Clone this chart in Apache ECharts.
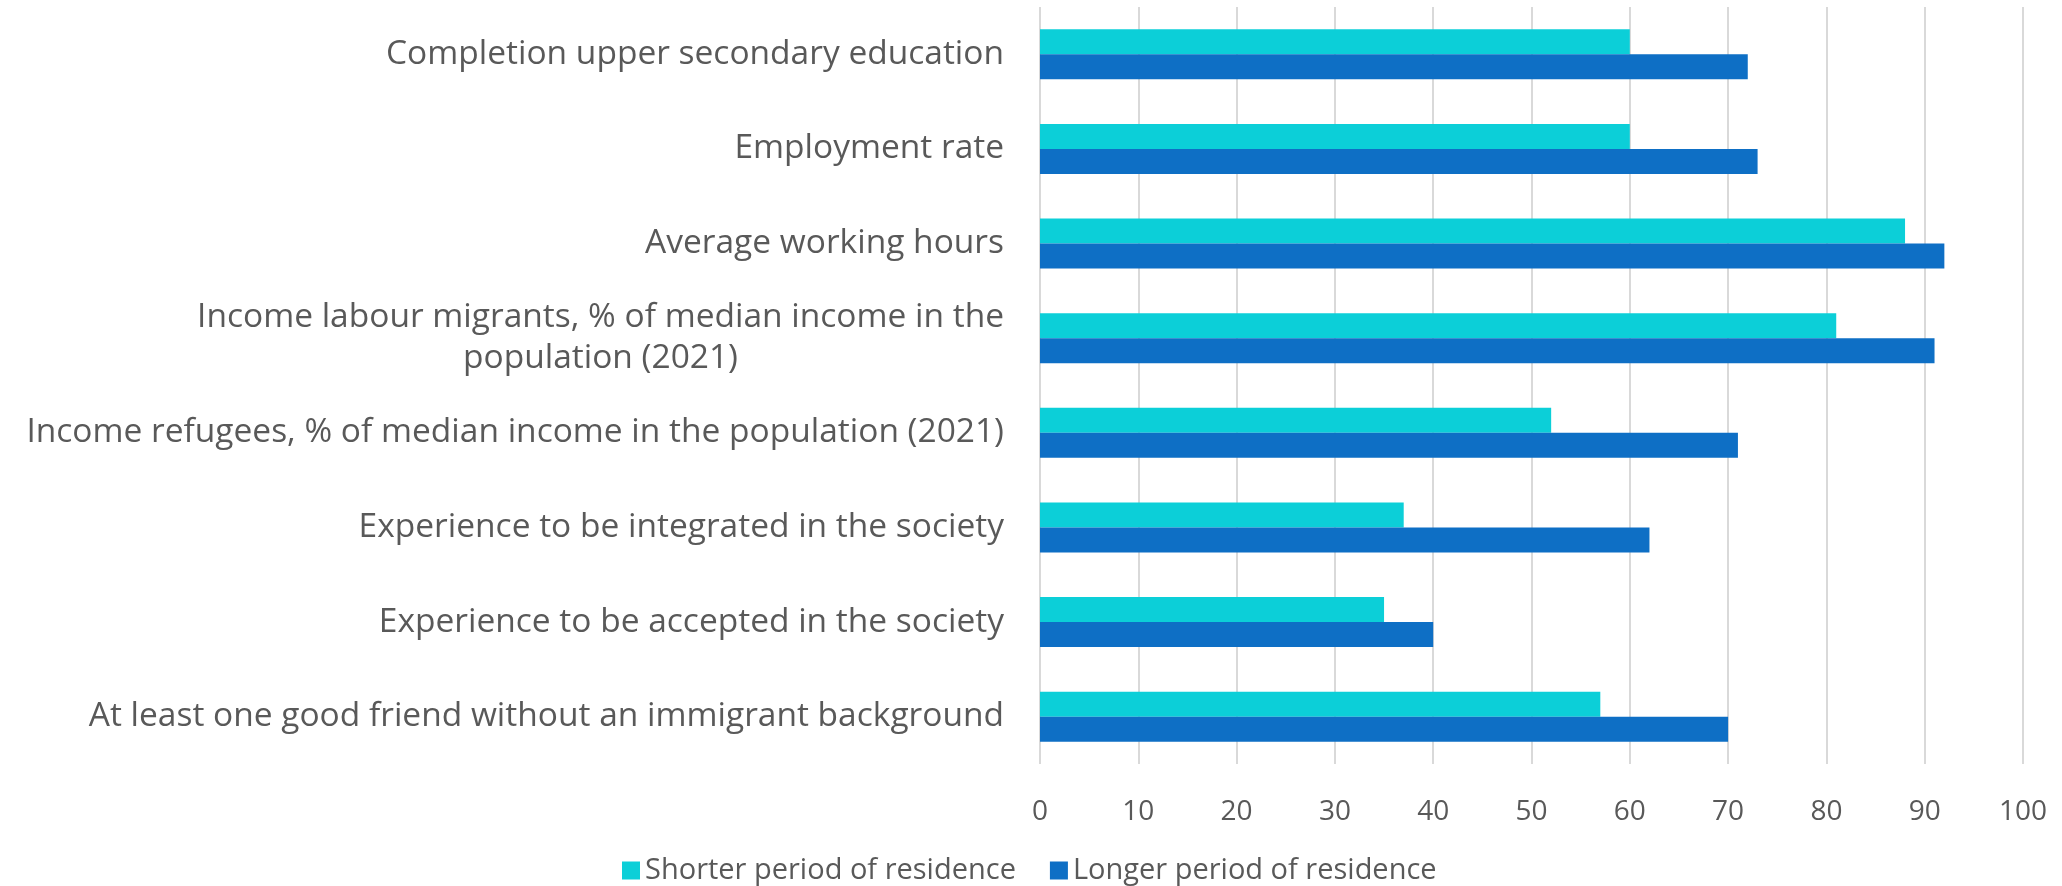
<!DOCTYPE html>
<html>
<head>
<meta charset="utf-8">
<style>
  html, body { margin: 0; padding: 0; background: #ffffff; }
  #chart { width: 2062px; height: 886px; }
</style>
<script src="https://cdn.jsdelivr.net/npm/echarts@6/dist/echarts.min.js"></script>
</head>
<body>
<div id="chart"></div>
<script>
// Integration indicators, shorter vs longer period of residence
const categories = [
  'Completion upper secondary education',
  'Employment rate',
  'Average working hours',
  'Income labour migrants, % of median income in the\npopulation (2021)',
  'Income refugees, % of median income in the population (2021)',
  'Experience to be integrated in the society',
  'Experience to be accepted in the society',
  'At least one good friend without an immigrant background'
];
const shorterResidence = [60, 60, 88, 81, 52, 37, 35, 57];
const longerResidence  = [72, 73, 92, 91, 71, 62, 40, 70];
const seriesNames = ['Shorter period of residence', 'Longer period of residence'];
const xTicks = { min: 0, max: 100, interval: 10 };

const FONT = '"Open Sans", "Noto Sans", sans-serif';
const TEXT = '#595959';
const GRID = '#d9d9d9';

const chart = echarts.init(document.getElementById('chart'), null, { renderer: 'canvas' });

chart.setOption({
  backgroundColor: '#ffffff',
  animation: false,
  grid: { left: 1040, right: 39, top: 7, bottom: 122, containLabel: false },
  legend: {
    data: seriesNames,
    left: 617,
    top: 851,
    itemWidth: 18,
    itemHeight: 18,
    itemGap: 34,
    icon: 'rect',
    textStyle: { color: TEXT, fontSize: 29, fontFamily: FONT }
  },
  xAxis: {
    type: 'value',
    min: xTicks.min,
    max: xTicks.max,
    interval: xTicks.interval,
    axisLine: { show: false },
    axisTick: { show: false },
    splitLine: { show: true, lineStyle: { color: GRID, width: 2 } },
    axisLabel: { color: TEXT, fontSize: 28, fontFamily: FONT, margin: 34 }
  },
  yAxis: {
    type: 'category',
    data: categories,
    inverse: true,
    axisLine: { show: false },
    axisTick: { show: false },
    axisLabel: {
      margin: 36,
      color: TEXT,
      fontSize: 33.5,
      fontFamily: FONT,
      lineHeight: 41,
      formatter: function (v) {
        return v.split('\n').map(function (l) { return '{c|' + l + '}'; }).join('\n');
      },
      rich: {
        c: { align: 'center', color: TEXT, fontSize: 33.5, fontFamily: FONT, lineHeight: 41 }
      }
    }
  },
  series: [
    {
      name: seriesNames[0],
      type: 'bar',
      data: shorterResidence,
      barWidth: 25,
      barGap: '0%',
      itemStyle: { color: '#0ccfd8' }
    },
    {
      name: seriesNames[1],
      type: 'bar',
      data: longerResidence,
      barWidth: 25,
      barGap: '0%',
      itemStyle: { color: '#0e6fc5' }
    }
  ]
});
</script>
</body>
</html>
